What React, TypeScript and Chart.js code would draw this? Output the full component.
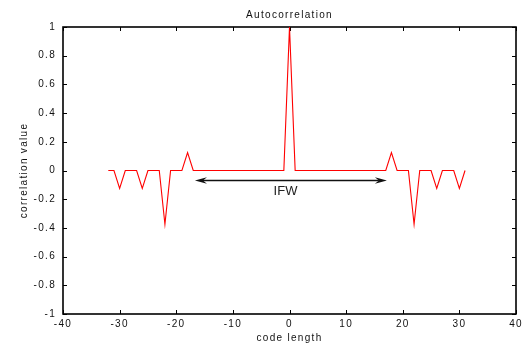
import React, { useEffect, useRef } from "react";
import { Chart, registerables } from "chart.js";

Chart.register(...registerables);

// ---- data ----
const lags = [
  -32, -31, -30, -29, -28, -27, -26, -25, -24, -23, -22, -21, -20, -19, -18, -17,
  -16, -15, -14, -13, -12, -11, -10, -9, -8, -7, -6, -5, -4, -3, -2, -1,
  0, 1, 2, 3, 4, 5, 6, 7, 8, 9, 10, 11, 12, 13, 14, 15,
  16, 17, 18, 19, 20, 21, 22, 23, 24, 25, 26, 27, 28, 29, 30, 31,
];
const correlation = [
  0, 0, -0.125, 0, 0, 0, -0.125, 0, 0, 0, -0.375, 0, 0, 0, 0.125, 0,
  0, 0, 0, 0, 0, 0, 0, 0, 0, 0, 0, 0, 0, 0, 0, 0,
  1, 0, 0, 0, 0, 0, 0, 0, 0, 0, 0, 0, 0, 0, 0, 0,
  0, 0, 0.125, 0, 0, 0, -0.375, 0, 0, 0, -0.125, 0, 0, 0, -0.125, 0,
];
const xTickValues = [-40, -30, -20, -10, 0, 10, 20, 30, 40];
const xTickLabels = ["-40", "-30", "-20", "-10", "0", "10", "20", "30", "40"];
const yTickValues = [-1, -0.8, -0.6, -0.4, -0.2, 0, 0.2, 0.4, 0.6, 0.8, 1];
const yTickLabels = ["-1", "-0.8", "-0.6", "-0.4", "-0.2", "0", "0.2", "0.4", "0.6", "0.8", "1"];

// annotation (data coordinates)
const arrowFromX = -16.7;
const arrowToX = 17.2;
const arrowY = -0.07;
const annotationText = "IFW";
const annotationX = -0.7;
const annotationY = -0.145;

const chartTitle = "Autocorrelation";
const xTitle = "code length";
const yTitle = "correlation value";

const FONT = "'Liberation Sans', Arial, Helvetica, sans-serif";

const framePlugin = {
  id: "frame",
  beforeDraw(chart: any) {
    chart.ctx.letterSpacing = "1.3px";
  },
  beforeDatasetsDraw(chart: any) {
    const { ctx, chartArea, scales } = chart;
    const { left, right, top, bottom } = chartArea;
    const x = scales.x;
    const y = scales.y;
    ctx.save();
    ctx.strokeStyle = "#000";
    ctx.lineWidth = 1;
    ctx.beginPath();
    const tl = 4;
    for (const v of xTickValues) {
      const px = Math.round(x.getPixelForValue(v)) + 0.5;
      ctx.moveTo(px, bottom);
      ctx.lineTo(px, bottom - tl);
      ctx.moveTo(px, top);
      ctx.lineTo(px, top + tl);
    }
    for (const v of yTickValues) {
      const py = Math.round(y.getPixelForValue(v)) + 0.5;
      ctx.moveTo(left, py);
      ctx.lineTo(left + tl, py);
      ctx.moveTo(right, py);
      ctx.lineTo(right - tl, py);
    }
    ctx.stroke();
    ctx.lineWidth = 1.6;
    ctx.strokeRect(left, top, right - left, bottom - top);
    ctx.restore();
  },
  afterDatasetsDraw(chart: any) {
    const { ctx, scales } = chart;
    const x = scales.x;
    const y = scales.y;
    const x1 = x.getPixelForValue(arrowFromX);
    const x2 = x.getPixelForValue(arrowToX);
    const py = y.getPixelForValue(arrowY);
    ctx.save();
    ctx.letterSpacing = "0px";
    ctx.strokeStyle = "#111";
    ctx.fillStyle = "#111";
    ctx.lineWidth = 1.4;
    const headLen = 12;
    const headHalf = 3.2;
    const notch = 8;
    ctx.beginPath();
    ctx.moveTo(x1 + notch, py);
    ctx.lineTo(x2 - notch, py);
    ctx.stroke();
    // left head
    ctx.beginPath();
    ctx.moveTo(x1, py);
    ctx.lineTo(x1 + headLen, py - headHalf);
    ctx.lineTo(x1 + notch, py);
    ctx.lineTo(x1 + headLen, py + headHalf);
    ctx.closePath();
    ctx.fill();
    // right head
    ctx.beginPath();
    ctx.moveTo(x2, py);
    ctx.lineTo(x2 - headLen, py - headHalf);
    ctx.lineTo(x2 - notch, py);
    ctx.lineTo(x2 - headLen, py + headHalf);
    ctx.closePath();
    ctx.fill();
    // label
    ctx.font = `13px ${FONT}`;
    ctx.textAlign = "center";
    ctx.textBaseline = "middle";
    ctx.fillStyle = "#222";
    ctx.fillText(annotationText, x.getPixelForValue(annotationX), y.getPixelForValue(annotationY));
    ctx.restore();
  },
};

export default function App() {
  const canvasRef = useRef<HTMLCanvasElement | null>(null);

  useEffect(() => {
    document.body.style.margin = "0";
    const canvas = canvasRef.current;
    if (!canvas) return;
    const points = lags.map((l, i) => ({ x: l, y: correlation[i] }));
    const chart = new Chart(canvas, {
      type: "line",
      data: {
        datasets: [
          {
            data: points,
            borderColor: "#ff0000",
            borderWidth: 1.1,
            pointRadius: 0,
            tension: 0,
            fill: false,
          },
        ],
      },
      options: {
        animation: false,
        responsive: false,
        devicePixelRatio: 1,
        layout: { autoPadding: false, padding: { left: 0, right: 16, top: 0, bottom: 0 } },
        plugins: {
          legend: { display: false },
          tooltip: { enabled: false },
          title: {
            display: true,
            fullSize: false,
            text: chartTitle,
            color: "#111",
            font: { family: FONT, size: 10, weight: "normal" },
            padding: { top: 9, bottom: 6 },
          },
        },
        scales: {
          x: {
            type: "linear",
            position: "bottom",
            min: -40,
            max: 40,
            grid: { display: false, drawTicks: false },
            border: { display: false },
            afterBuildTicks: (scale: any) => {
              scale.ticks = xTickValues.map((v) => ({ value: v }));
            },
            afterFit: (scale: any) => {
              scale.height = 31;
            },
            ticks: {
              color: "#111",
              padding: 4,
              maxRotation: 0,
              autoSkip: false,
              font: { family: FONT, size: 10 },
              callback: (_v: any, i: number) => xTickLabels[i],
            },
            title: {
              display: true,
              text: xTitle,
              color: "#111",
              font: { family: FONT, size: 10 },
              padding: { top: 0, bottom: 1 },
            },
          },
          y: {
            type: "linear",
            min: -1,
            max: 1,
            grid: { display: false, drawTicks: false },
            border: { display: false },
            afterBuildTicks: (scale: any) => {
              scale.ticks = yTickValues.map((v) => ({ value: v }));
            },
            afterFit: (scale: any) => {
              scale.width = 63;
            },
            ticks: {
              color: "#111",
              padding: 7,
              autoSkip: false,
              font: { family: FONT, size: 10 },
              callback: (_v: any, i: number) => yTickLabels[i],
            },
            title: {
              display: true,
              text: yTitle,
              color: "#111",
              font: { family: FONT, size: 10 },
              padding: { top: 18, bottom: 0 },
            },
          },
        },
      },
      plugins: [framePlugin],
    });
    return () => chart.destroy();
  }, []);

  return (
    <div style={{ width: 532, height: 345 }}>
      <canvas
        ref={canvasRef}
        width={532}
        height={345}
        style={{ display: "block", width: 532, height: 345 }}
      />
    </div>
  );
}
